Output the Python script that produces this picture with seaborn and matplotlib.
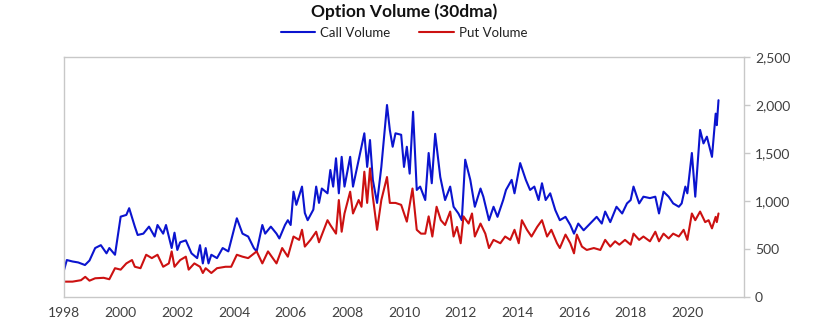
import numpy as np
import pandas as pd
import matplotlib
matplotlib.use("Agg")
import matplotlib.pyplot as plt
import seaborn as sns

# ---- data ----
call_years = [1998.0, 1998.1, 1998.3, 1998.5, 1998.74, 1998.9, 1999.1, 1999.3, 1999.5, 1999.6, 1999.8,
              2000.0, 2000.2, 2000.3, 2000.5, 2000.6, 2000.8, 2001.0, 2001.2, 2001.3, 2001.5, 2001.6,
              2001.8, 2001.9, 2002.0, 2002.1, 2002.3, 2002.5, 2002.7, 2002.8, 2002.9, 2003.0, 2003.1,
              2003.2, 2003.4, 2003.6, 2003.8, 2003.9, 2004.1, 2004.3, 2004.5, 2004.7, 2004.8, 2005.0,
              2005.1, 2005.3, 2005.5, 2005.6, 2005.8, 2005.9, 2006.0, 2006.1, 2006.2, 2006.4, 2006.5,
              2006.6, 2006.8, 2006.9, 2007.0, 2007.1, 2007.3, 2007.4, 2007.5, 2007.6, 2007.7, 2007.8,
              2007.9, 2008.1, 2008.2, 2008.4, 2008.6, 2008.7, 2008.8, 2008.9, 2009.05, 2009.2, 2009.4,
              2009.5, 2009.6, 2009.7, 2009.9, 2010.0, 2010.1, 2010.2, 2010.32, 2010.45, 2010.57, 2010.75,
              2010.87, 2010.98, 2011.1, 2011.28, 2011.45, 2011.63, 2011.75, 2011.92, 2012.04, 2012.16,
              2012.34, 2012.5, 2012.7, 2012.8, 2013.0, 2013.16, 2013.3, 2013.5, 2013.6, 2013.8, 2013.9,
              2014.1, 2014.3, 2014.45, 2014.6, 2014.75, 2014.87, 2015.0, 2015.16, 2015.34, 2015.5,
              2015.7, 2015.87, 2016.0, 2016.15, 2016.34, 2016.57, 2016.8, 2016.98, 2017.1, 2017.28,
              2017.5, 2017.7, 2017.87, 2018.0, 2018.1, 2018.3, 2018.45, 2018.68, 2018.87, 2019.0,
              2019.16, 2019.34, 2019.5, 2019.7, 2019.8, 2019.93, 2020.0, 2020.16, 2020.28, 2020.45,
              2020.57, 2020.69, 2020.87, 2021.0, 2021.04, 2021.1]
call_values = [280, 385, 370, 360, 333, 380, 510, 540, 455, 510, 440,
               837, 855, 925, 733, 646, 660, 733, 630, 750, 660, 750,
               510, 670, 490, 570, 590, 455, 405, 540, 350, 510, 350,
               440, 405, 510, 475, 590, 820, 660, 630, 510, 475, 750,
               660, 733, 660, 610, 750, 800, 750, 1097, 960, 1150, 875,
               800, 910, 1150, 980, 1130, 1080, 1323, 1150, 1445, 1080, 1460,
               1150, 1460, 1150, 1425, 1705, 1355, 1635, 1220, 980, 1355, 2000,
               1740, 1565, 1705, 1690, 1355, 1565, 1285, 1930, 1115, 1150, 1010,
               1500, 1185, 1700, 1250, 1010, 1150, 940, 870, 800, 1430,
               1220, 940, 1130, 1045, 800, 940, 835, 1010, 1115, 1220, 1080,
               1395, 1220, 1115, 1150, 1010, 1185, 1010, 1080, 905, 800,
               835, 750, 660, 765, 695, 765, 835, 765, 890, 780,
               940, 870, 975, 1010, 1150, 975, 1045, 1030, 1045, 870,
               1097, 1045, 975, 940, 975, 1150, 1080, 1500, 1045, 1740,
               1600, 1670, 1460, 1910, 1790, 2050]

put_years = [1998.0, 1998.3, 1998.6, 1998.75, 1998.9, 1999.1, 1999.4, 1999.6, 1999.8, 2000.0,
             2000.2, 2000.4, 2000.5, 2000.7, 2000.9, 2001.1, 2001.3, 2001.5, 2001.7, 2001.8,
             2001.9, 2002.1, 2002.3, 2002.4, 2002.6, 2002.8, 2002.9, 2003.0, 2003.2, 2003.4,
             2003.7, 2003.9, 2004.1, 2004.3, 2004.5, 2004.8, 2005.0, 2005.2, 2005.5, 2005.7,
             2005.9, 2006.1, 2006.3, 2006.4, 2006.5, 2006.7, 2006.9, 2007.0, 2007.3, 2007.4,
             2007.6, 2007.7, 2007.8, 2007.9, 2008.1, 2008.2, 2008.4, 2008.5, 2008.6, 2008.7,
             2008.8, 2008.9, 2009.05, 2009.2, 2009.4, 2009.5, 2009.7, 2009.9, 2010.1, 2010.3,
             2010.45, 2010.6, 2010.75, 2010.87, 2011.0, 2011.15, 2011.3, 2011.45, 2011.63, 2011.75,
             2011.87, 2012.0, 2012.1, 2012.28, 2012.4, 2012.5, 2012.7, 2012.87, 2013.0, 2013.16,
             2013.4, 2013.57, 2013.75, 2013.9, 2014.05, 2014.16, 2014.34, 2014.5, 2014.7, 2014.87,
             2015.05, 2015.2, 2015.4, 2015.5, 2015.7, 2015.87, 2016.0, 2016.1, 2016.28, 2016.45,
             2016.7, 2016.93, 2017.1, 2017.28, 2017.45, 2017.6, 2017.8, 2018.0, 2018.1, 2018.3,
             2018.45, 2018.68, 2018.87, 2019.0, 2019.16, 2019.34, 2019.5, 2019.7, 2019.87, 2020.0,
             2020.16, 2020.28, 2020.45, 2020.63, 2020.75, 2020.87, 2021.0, 2021.04, 2021.1]
put_values = [160, 160, 175, 210, 170, 195, 200, 185, 300, 285,
              350, 385, 315, 300, 440, 405, 440, 315, 350, 475,
              315, 385, 420, 285, 350, 315, 250, 300, 250, 300,
              315, 315, 440, 420, 405, 475, 350, 475, 350, 510,
              420, 630, 595, 700, 525, 595, 680, 570, 800, 750,
              660, 1010, 680, 870, 1097, 870, 1010, 940, 1305, 980,
              1340, 1045, 700, 1010, 1250, 980, 980, 960, 785, 1130,
              700, 660, 660, 840, 630, 940, 800, 750, 890, 630,
              730, 560, 840, 765, 870, 630, 765, 660, 510, 595,
              560, 630, 595, 700, 560, 800, 700, 630, 730, 800,
              630, 700, 560, 510, 650, 560, 455, 650, 525, 490,
              510, 490, 595, 525, 580, 545, 595, 545, 660, 595,
              630, 580, 680, 580, 660, 610, 660, 630, 700, 595,
              870, 800, 890, 780, 800, 715, 835, 780, 870]

series_names = ["Call Volume", "Put Volume"]
series_colors = ["#0b14cf", "#cc1111"]
y_ticks = [0, 500, 1000, 1500, 2000, 2500]
x_ticks = list(range(1998, 2021, 2))

df = pd.concat([
    pd.DataFrame({"year": call_years, "value": call_values, "series": series_names[0]}),
    pd.DataFrame({"year": put_years, "value": put_values, "series": series_names[1]}),
], ignore_index=True)

# ---- plot ----
sns.set_theme(style="white")
plt.rcParams["font.family"] = ["Lato", "DejaVu Sans"]

fig = plt.figure(figsize=(8.4, 3.24), dpi=100)
ax = fig.add_axes([64 / 840, 27 / 324, 680 / 840, 240 / 324])

sns.lineplot(data=df, x="year", y="value", hue="series", hue_order=series_names,
             palette=dict(zip(series_names, series_colors)), linewidth=1.5,
             estimator=None, sort=True, ax=ax, legend=False)

ax.set_xlim(1998, 2022)
ax.set_ylim(0, 2500)
ax.set_xticks(x_ticks)
ax.set_xticklabels([str(t) for t in x_ticks])
ax.set_yticks(y_ticks)
ax.set_yticklabels([f"{t:,}" for t in y_ticks])
ax.yaxis.tick_right()
ax.set_xlabel("")
ax.set_ylabel("")

for s in ax.spines.values():
    s.set_visible(True)
    s.set_color("#c8c8c8")
    s.set_linewidth(1.0)

ax.tick_params(axis="x", direction="out", length=4, width=1, color="#c8c8c8",
               labelsize=10, labelcolor="#404040", pad=3)
ax.tick_params(axis="y", direction="out", length=4, width=1, color="#c8c8c8",
               labelsize=10, labelcolor="#404040", pad=4, right=True, left=False)
ax.grid(False)

fig.text(404 / 840, 1 - 12 / 324, "Option Volume (30dma)", ha="center", va="center",
         fontsize=12.5, fontweight="bold", color="#111111")

from matplotlib.lines import Line2D
handles = [Line2D([0], [0], color=c, lw=1.5) for c in series_colors]
fig.legend(handles, series_names, loc="center", bbox_to_anchor=(404 / 840, 1 - 33 / 324),
           ncol=2, frameon=False, fontsize=9.5, handlelength=2.6, handletextpad=0.4,
           columnspacing=2.2, labelcolor="#222222")

fig.savefig("out.png", dpi=100, facecolor="white")
